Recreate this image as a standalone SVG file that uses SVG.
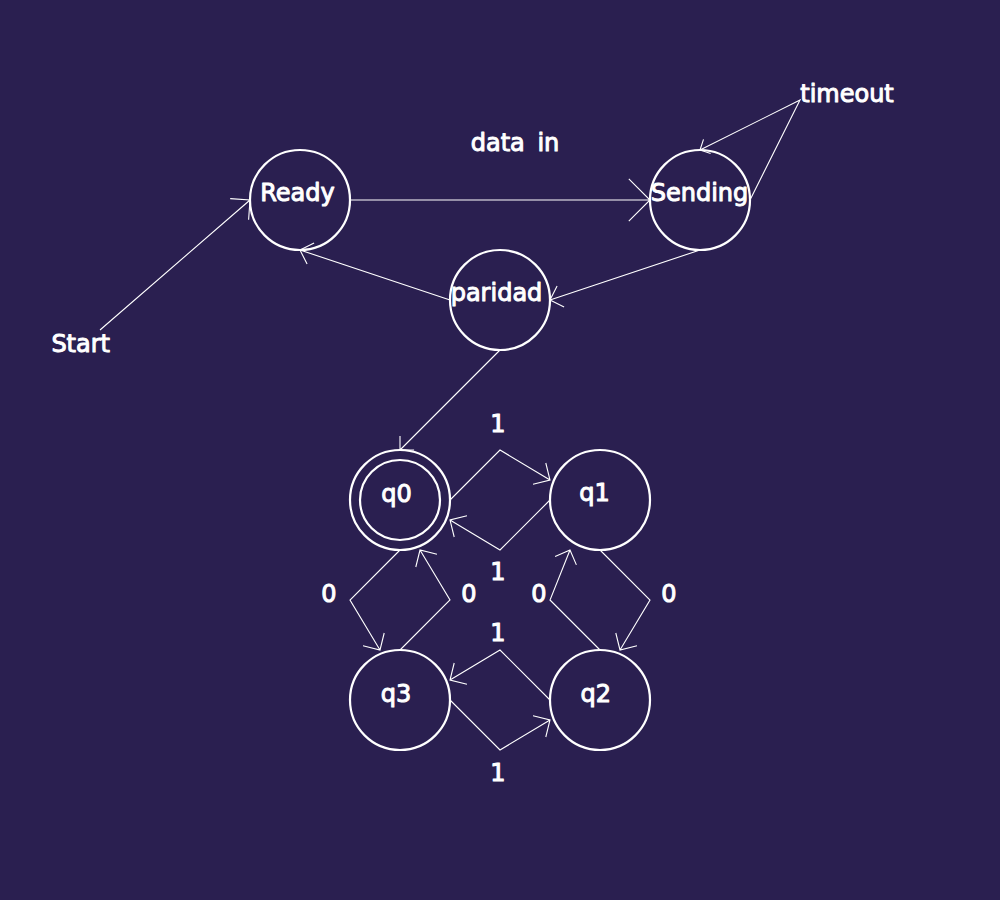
<svg xmlns="http://www.w3.org/2000/svg" width="1000" height="900" viewBox="0 0 1000 900">
<style>
.bg{fill:#2a1f50}
.st{fill:none;stroke:#ffffff;stroke-width:2.2}
.cn{fill:none;stroke:#ffffff;stroke-width:1.1;stroke-linejoin:miter}
.t{fill:#ffffff;stroke:#ffffff;stroke-width:1;stroke-linejoin:round;font-family:"DejaVu Sans","Liberation Sans",sans-serif;font-size:24px;text-anchor:middle}
</style>
<rect class="bg" x="0" y="0" width="1000" height="900"/>
<g id="connectors">
  <path class="cn" d="M100,330 L250,200 M230.2,198.6 L250,200 L248.6,219.8"/>
  <path class="cn" d="M350,200 L650,200 M628.8,178.8 L650,200 L628.8,221.2"/>
  <path class="cn" d="M700,250 L550,300 M564.1,307.1 L550,300 L557.1,285.9"/>
  <path class="cn" d="M450,300 L300,250 M307.1,264.1 L300,250 L314.1,242.9"/>
  <path class="cn" d="M750,200 L800,100 L700,150 M710.6,153.5 L700,150 L703.5,139.4"/>
  <path class="cn" d="M500,350 L400,450 M414.1,450 L400,450 L400,435.9"/>
  <path class="cn" d="M450,500 L500,450 L550,480 M545.8,463 L550,480 L533,484.2"/>
  <path class="cn" d="M550,500 L500,550 L450,520 M454.2,537 L450,520 L467,515.8"/>
  <path class="cn" d="M400,550 L350,600 L380,650 M384.2,633 L380,650 L363,645.8"/>
  <path class="cn" d="M400,650 L450,600 L420,550 M415.8,567 L420,550 L437,554.2"/>
  <path class="cn" d="M600,550 L650,600 L620,650 M637,645.8 L620,650 L615.8,633"/>
  <path class="cn" d="M600,650 L550,600 L570,550 M555.1,556.4 L570,550 L576.4,564.9"/>
  <path class="cn" d="M550,700 L500,650 L450,680 M467,684.2 L450,680 L454.2,663"/>
  <path class="cn" d="M450,700 L500,750 L550,720 M533,715.8 L550,720 L545.8,737"/>
  <text class="t" x="515" y="151" word-spacing="5">data in</text>
  <text class="t" x="498" y="432">1</text>
  <text class="t" x="498" y="580">1</text>
  <text class="t" x="329" y="602">0</text>
  <text class="t" x="469" y="602">0</text>
  <text class="t" x="539" y="602">0</text>
  <text class="t" x="669" y="602">0</text>
  <text class="t" x="498" y="641">1</text>
  <text class="t" x="498" y="780.5">1</text>
</g>
<g id="start"><text class="t" x="80.7" y="351.7" font-size="25">Start</text></g>
<g id="timeout"><text class="t" x="847" y="102">timeout</text></g>
<g id="ready"><circle class="st" cx="300" cy="200" r="50"/><text class="t" x="297.5" y="200.5">Ready</text></g>
<g id="sending"><circle class="st" cx="700" cy="200" r="50"/><text class="t" x="699.5" y="200.5">Sending</text></g>
<g id="paridad"><circle class="st" cx="500" cy="300" r="50"/><text class="t" x="496.5" y="300.5">paridad</text></g>
<g id="q0"><circle class="st" cx="400" cy="500" r="50"/><circle class="st" cx="400" cy="500" r="40"/><text class="t" x="396.5" y="501.5">q0</text></g>
<g id="q1"><circle class="st" cx="600" cy="500" r="50"/><text class="t" x="594.5" y="501">q1</text></g>
<g id="q2"><circle class="st" cx="600" cy="700" r="50"/><text class="t" x="595.7" y="702">q2</text></g>
<g id="q3"><circle class="st" cx="400" cy="700" r="50"/><text class="t" x="396" y="702">q3</text></g>
</svg>
